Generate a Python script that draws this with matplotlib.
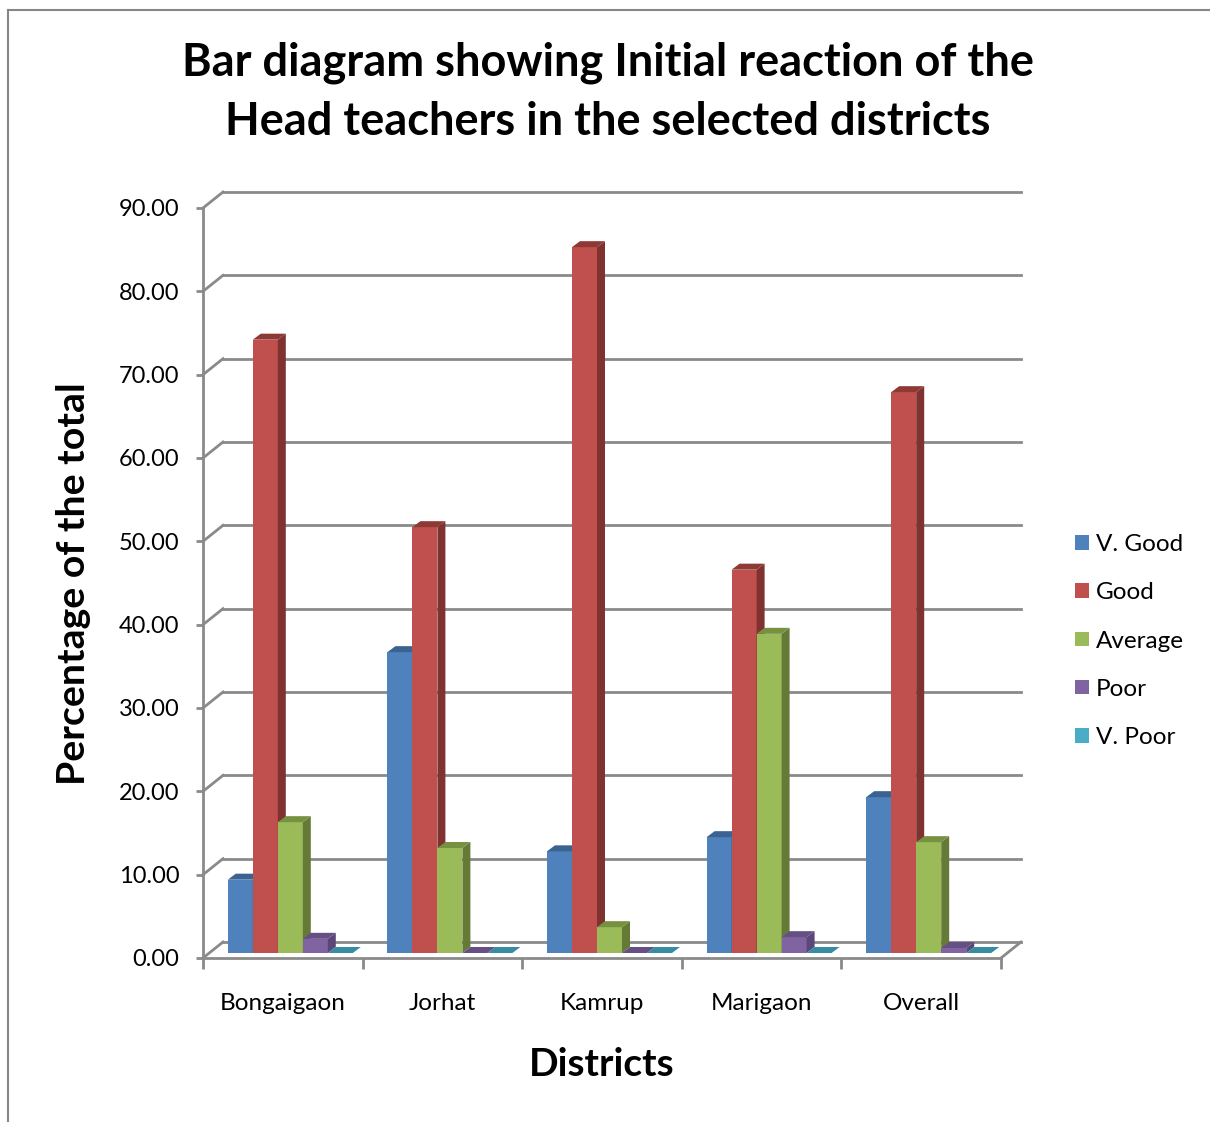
import matplotlib.pyplot as plt
from matplotlib.patches import Polygon
from matplotlib.lines import Line2D
import numpy as np

plt.rcParams['font.family'] = ['Lato', 'DejaVu Sans']

districts = ['Bongaigaon', 'Jorhat', 'Kamrup', 'Marigaon', 'Overall']
series = ['V. Good', 'Good', 'Average', 'Poor', 'V. Poor']
v_good = [8.8, 36.1, 12.2, 13.9, 18.7]
good = [73.6, 51.1, 84.7, 46.0, 67.3]
average = [15.7, 12.6, 3.1, 38.3, 13.3]
poor = [1.7, 0.0, 0.0, 1.9, 0.6]
v_poor = [0.0, 0.0, 0.0, 0.0, 0.0]
yticks = np.arange(0, 91, 10)

face = ['#4F81BD', '#C0504D', '#9BBB59', '#8064A2', '#4BACC6']
side = ['#385D8A', '#7F3230', '#657A37', '#5C477A', '#31849B']
top = ['#3A6391', '#8E3936', '#76913F', '#664F85', '#368CA0']
grid_col = '#8A8A8A'

W, H = 1210, 1122
fig = plt.figure(figsize=(W / 100, H / 100), dpi=100)

# front plane of the pseudo-3D box, in pixels
x0, x1 = 203, 1001
y0, y1 = 958, 208
ax = fig.add_axes([x0 / W, 1 - y0 / H, (x1 - x0) / W, (y0 - y1) / H])
ax.set_xlim(0, 5)
ax.set_ylim(0, 90)

ux = (x1 - x0) / 5
uy = (y0 - y1) / 90
back_dx, back_dy = 20 / ux, 16 / uy
bar_dx, bar_dy = 7.5 / ux, 5 / uy
dep_dx, dep_dy = 8 / ux, 6 / uy
bw = 25 / ux

for s in ['top', 'right']:
    ax.spines[s].set_visible(False)
for s in ['left', 'bottom']:
    ax.spines[s].set_color(grid_col)
    ax.spines[s].set_linewidth(2)

# back wall, side wall and floor
for t in yticks:
    ax.plot([back_dx, 5 + back_dx], [t + back_dy] * 2, color=grid_col, lw=2,
            clip_on=False, zorder=1)
    ax.plot([0, back_dx], [t, t + back_dy], color=grid_col, lw=2,
            clip_on=False, zorder=1)
ax.plot([5, 5 + back_dx], [0, back_dy], color=grid_col, lw=2, clip_on=False, zorder=1)

# bars
values = [v_good, good, average, poor, v_poor]
for j, (name, vals) in enumerate(zip(series, values)):
    xl = np.arange(5) + (1 - 5 * bw) / 2 + bar_dx + j * bw
    ax.bar(xl, vals, width=bw, bottom=bar_dy, align='edge', color=face[j],
           label=name, zorder=3 + j, clip_on=False)
    for x, v in zip(xl, vals):
        xr = x + bw
        b = bar_dy
        ax.add_patch(Polygon([(xr, b), (xr, b + v), (xr + dep_dx, b + v + dep_dy),
                              (xr + dep_dx, b + dep_dy)], closed=True,
                             color=side[j], zorder=3 + j, clip_on=False, lw=0))
        ax.add_patch(Polygon([(x, b + v), (xr, b + v), (xr + dep_dx, b + v + dep_dy),
                              (x + dep_dx, b + v + dep_dy)], closed=True,
                             color=top[j], zorder=3 + j, clip_on=False, lw=0))

ax.set_yticks(yticks)
ax.set_yticklabels(['%.2f' % t for t in yticks], fontsize=17)
ax.tick_params(axis='y', length=5, width=2, color=grid_col, pad=12)
ax.set_xticks(np.arange(6))
ax.set_xticklabels([])
ax.tick_params(axis='x', which='major', length=8, width=2, color=grid_col)
ax.set_xticks(np.arange(5) + 0.5, minor=True)
ax.set_xticklabels(districts, minor=True, fontsize=17.5)
ax.tick_params(axis='x', which='minor', length=0, pad=25)

fig.legend(loc='center left', bbox_to_anchor=(1063 / W, 1 - 641 / H), frameon=False,
           fontsize=17.5, handlelength=0.55, handleheight=0.55, handletextpad=0.3,
           labelspacing=1.12, borderpad=0)

fig.text(608 / W, 1 - 92 / H,
         'Bar diagram showing Initial reaction of the\nHead teachers in the selected districts',
         ha='center', va='center', fontsize=32.5, fontweight='bold', linespacing=1.5)
fig.text(74 / W, 1 - 584 / H, 'Percentage of the total', rotation=90, ha='center',
         va='center', fontsize=28.3, fontweight='bold')
fig.text(602 / W, 1 - 1065 / H, 'Districts', ha='center', va='center', fontsize=28,
         fontweight='bold')

# chart area border
fig.add_artist(Line2D([8 / W, 8 / W], [0, 1 - 10 / H], color='#868686', lw=1.5))
fig.add_artist(Line2D([8 / W, 1], [1 - 10 / H, 1 - 10 / H], color='#868686', lw=1.5))

fig.savefig('out.png', dpi=100)
